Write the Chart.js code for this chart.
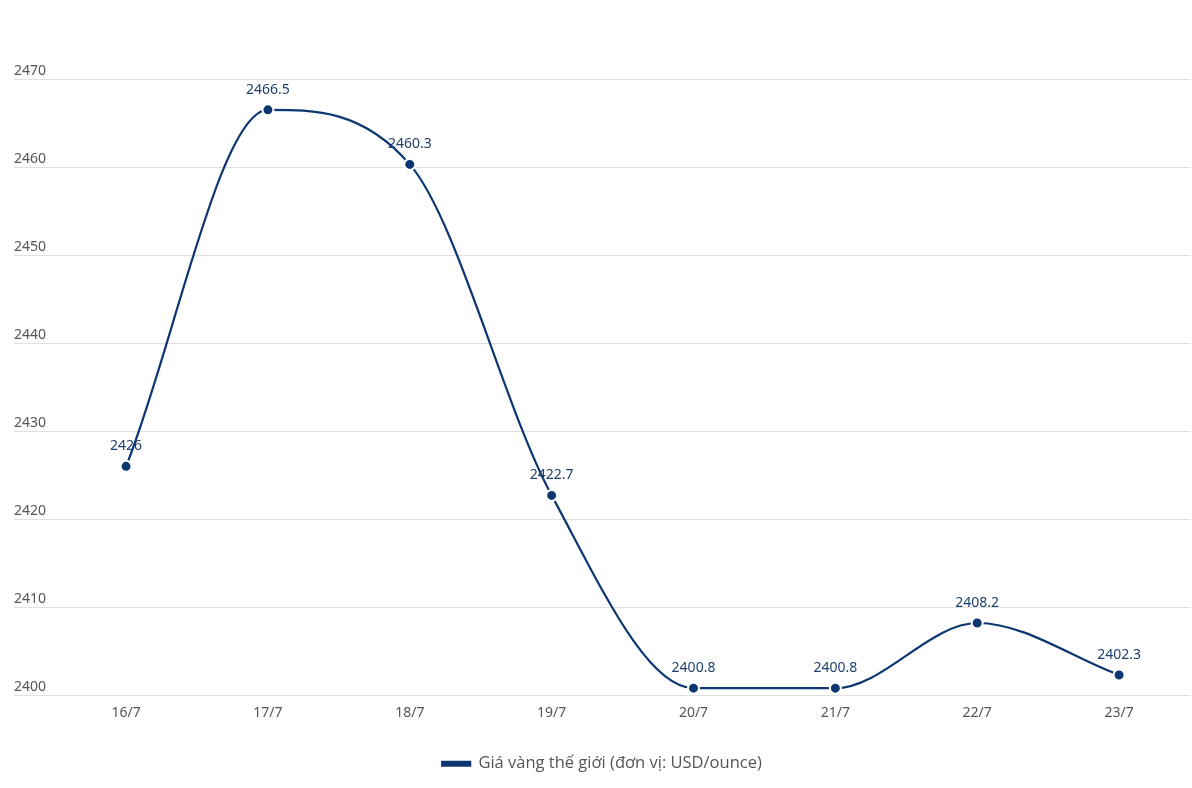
<!DOCTYPE html>
<html>
<head>
<meta charset="utf-8">
<script src="https://cdn.jsdelivr.net/npm/chart.js@4"></script>
<style>
  html, body { margin: 0; padding: 0; background: #fff; }
  #wrap { width: 1192px; height: 788px; }
</style>
</head>
<body>
<div id="wrap"><canvas id="goldChart"></canvas></div>
<script>
// Dates and world gold price
const dayLabels = ['16/7', '17/7', '18/7', '19/7', '20/7', '21/7', '22/7', '23/7'];
const goldPrices = [2426, 2466.5, 2460.3, 2422.7, 2400.8, 2400.8, 2408.2, 2402.3];
const seriesName = 'Giá vàng thế giới (đơn vị: USD/ounce)';

const navy = '#0c3770';

// Draw the value above each point
const valueLabels = {
  id: 'valueLabels',
  afterDatasetsDraw(chart) {
    const ctx = chart.ctx;
    const meta = chart.getDatasetMeta(0);
    ctx.save();
    ctx.font = '14px "Noto Sans"';
    ctx.fillStyle = '#1d3f6d';
    ctx.textAlign = 'center';
    ctx.textBaseline = 'bottom';
    meta.data.forEach((pt, i) => {
      ctx.fillText(String(goldPrices[i]), pt.x, pt.y - 13);
    });
    ctx.restore();
  }
};

const ctx = document.getElementById('goldChart').getContext('2d');
new Chart(ctx, {
  type: 'line',
  data: {
    datasets: [{
      label: seriesName,
      data: goldPrices.map((v, i) => ({ x: i, y: v })),
      borderColor: navy,
      backgroundColor: navy,
      borderWidth: 2.2,
      cubicInterpolationMode: 'monotone',
      pointRadius: 5.5,
      pointBorderWidth: 2,
      pointBorderColor: '#fff',
      pointBackgroundColor: navy,
      clip: false
    }]
  },
  options: {
    responsive: true,
    maintainAspectRatio: false,
    animation: false,
    layout: { autoPadding: false, padding: { top: 79, left: 14, right: 2, bottom: 6 } },
    plugins: {
      legend: {
        position: 'bottom',
        labels: {
          boxWidth: 28,
          boxHeight: 4,
          padding: 33.5,
          color: '#555',
          font: { family: '"Open Sans"', size: 16.5 }
        }
      },
      tooltip: { enabled: false }
    },
    scales: {
      x: {
        type: 'linear',
        min: -0.79,
        max: 7.5,
        afterBuildTicks(scale) {
          scale.ticks = dayLabels.map((d, i) => ({ value: i }));
        },
        afterFit(scale) {
          scale.paddingLeft = 0;
          scale.paddingRight = 0;
        },
        grid: { display: false },
        border: { display: false },
        ticks: {
          color: '#555',
          font: { family: '"Noto Sans"', size: 14 },
          padding: 1,
          callback: (v) => dayLabels[v]
        }
      },
      y: {
        min: 2400,
        max: 2470,
        grid: { color: '#e0e0e0', drawTicks: false },
        border: { display: false },
        afterFit(scale) {
          scale.paddingLeft = 0;
          scale.paddingRight = 0;
        },
        ticks: {
          stepSize: 10,
          mirror: true,
          padding: 0,
          labelOffset: -8,
          color: '#555',
          font: { family: '"Noto Sans"', size: 14 },
          callback: (v) => String(v)
        }
      }
    }
  },
  plugins: [valueLabels]
});
</script>
</body>
</html>
